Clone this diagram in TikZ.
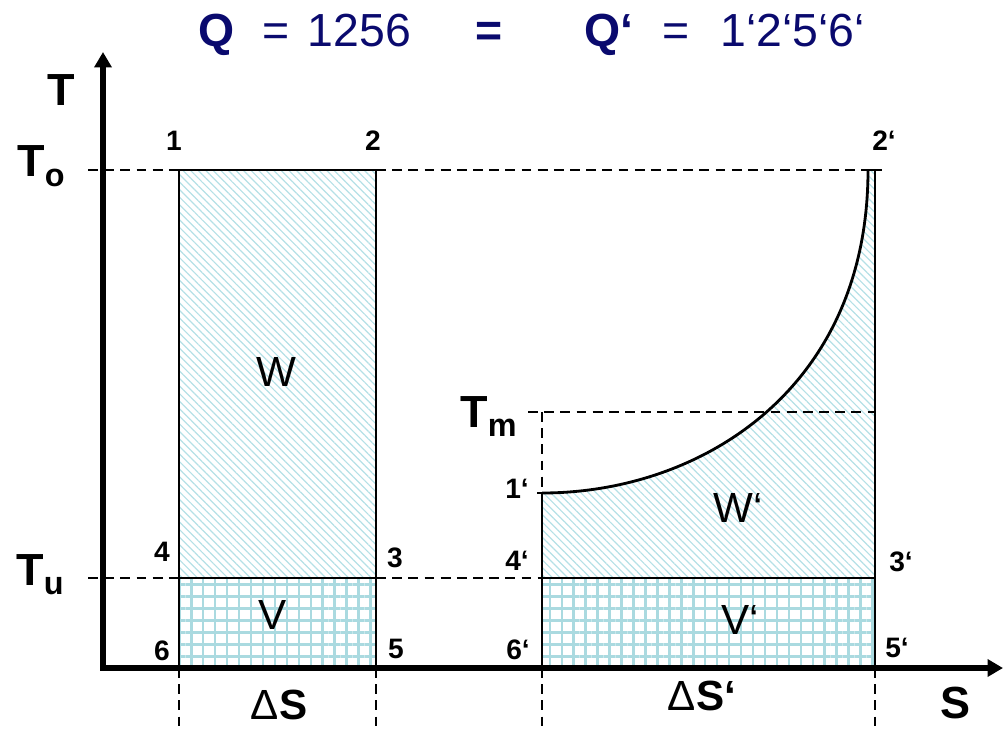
\documentclass[tikz,border=0pt]{standalone}
\usepackage{fontspec}
\setmainfont{Liberation Sans}
\usetikzlibrary{patterns.meta,arrows.meta}
\definecolor{navy}{RGB}{10,10,110}
\definecolor{hatchc}{RGB}{170,218,224}
\definecolor{hatchl}{RGB}{180,224,230}
\begin{document}
\begin{tikzpicture}[x=0.025cm,y=-0.025cm,
  axis/.style={line width=4pt,-{Triangle[length=11pt,width=12pt]}},
  edge/.style={line width=2pt},
  guide/.style={line width=1.5pt,dash pattern=on 7pt off 4.5pt},
  hatchfill/.style={pattern={Lines[angle=-45,distance=3.8pt,line width=0.85pt]},pattern color=hatchl},
  gridfill/.style={pattern={Hatch[angle=0,distance=8.5pt,line width=1.8pt]},pattern color=hatchc},
  pt/.style={font=\fontsize{20}{22}\selectfont\bfseries,inner sep=0pt},
  big/.style={font=\fontsize{32}{34}\selectfont\bfseries,inner sep=0pt},
  area/.style={font=\fontsize{30}{33}\selectfont,inner sep=0pt},
  title/.style={font=\fontsize{33}{36}\selectfont,text=navy,inner sep=0pt,anchor=base}]
\path[use as bounding box] (0,0) rectangle (1003,728);
% coordinates
\coordinate (O) at (103,668);
\coordinate (Ytip) at (103,52);
\coordinate (Xtip) at (1003,668);
\coordinate (p1) at (179,170);
\coordinate (p2) at (376,170);
\coordinate (p3) at (376,578);
\coordinate (p4) at (179,578);
\coordinate (p5) at (376,668);
\coordinate (p6) at (179,668);
\coordinate (q1) at (542,493);
\coordinate (q2) at (868,170);
\coordinate (q2r) at (875,170);
\coordinate (q3) at (875,578);
\coordinate (q4) at (542,578);
\coordinate (q5) at (875,668);
\coordinate (q6) at (542,668);
\coordinate (qm) at (875,412);
\coordinate (qmL) at (528,412);
\coordinate (qmx) at (542,412);
\coordinate (ToL) at (88,170);
\coordinate (TuL) at (88,578);
\coordinate (b1) at (179,728);
\coordinate (b2) at (376,728);
\coordinate (b3) at (542,728);
\coordinate (b4) at (875,728);
% fills
\fill[hatchfill] (p1) rectangle (p3);
\fill[gridfill] (p4) rectangle (p5);
\fill[hatchfill] (q4) -- (q1) .. controls (700,493) and (868,390) .. (q2) -- (q2r) -- (q3) -- cycle;
\fill[gridfill] (q4) rectangle (q5);
% dashed guides
\draw[guide] (ToL) -- (p1);
\draw[guide] (p2) -- (q2);
\draw[guide] (TuL) -- (p4);
\draw[guide] (p3) -- (q4);
\draw[guide] (qmL) -- (qm);
\draw[guide] (qmx) -- (q1);
\draw[guide] (p6) -- (b1);
\draw[guide] (p5) -- (b2);
\draw[guide] (q6) -- (b3);
\draw[guide] (q5) -- (b4);
% solid edges
\draw[edge] (p1) rectangle (p5);
\draw[edge] (p4) -- (p3);
\draw[edge] (q1) .. controls (700,493) and (868,390) .. (q2);
\draw[edge] (q2) -- (882,170);
\draw[edge] (q2r) -- (q5);
\draw[edge] (q4) -- (q3);
\draw[edge] (537,493) -- (q1) -- (q6);
% axes
\draw[axis] (103,670) -- (Ytip);
\draw[axis] (100,668) -- (Xtip);
% title
\node[title,font=\fontsize{33}{36}\selectfont\bfseries] (tQ) at (217,47) {Q};
\node[title,anchor=base west] (tQv) at (262,47) {=\hspace{0.4em}1256};
\node[title,font=\fontsize{33}{36}\selectfont\bfseries] (teq) at (489,47) {=};
\node[title,font=\fontsize{33}{36}\selectfont\bfseries] (tQp) at (609,47) {Q‘};
\node[title] (teq2) at (676,47) {=};
\node[title,anchor=base west] (tQpv) at (720,47) {1‘2‘5‘6‘};
% axis labels
\node[big,anchor=base] (lT) at (61,106) {T};
\node[big,anchor=base] (lS) at (955,718) {S};
\node[big,anchor=base west] (lTo) at (17,177) {T\raisebox{-7pt}{\fontsize{23}{24}\selectfont o}};
\node[big,anchor=base west] (lTu) at (16,585) {T\raisebox{-7pt}{\fontsize{23}{24}\selectfont u}};
\node[big,anchor=base west] (lTm) at (460,427) {T\raisebox{-7pt}{\fontsize{23}{24}\selectfont m}};
% point labels
\node[pt] (n1) at (174,141) {1};
\node[pt] (n2) at (373,141) {2};
\node[pt] (n2p) at (884,141) {2‘};
\node[pt] (n4) at (162,552) {4};
\node[pt] (n3) at (395,558) {3};
\node[pt] (n1p) at (517,489) {1‘};
\node[pt] (n4p) at (517,561) {4‘};
\node[pt] (n3p) at (901,562) {3‘};
\node[pt] (n6) at (162,651) {6};
\node[pt] (n5) at (396,649) {5};
\node[pt] (n6p) at (518,650) {6‘};
\node[pt] (n5p) at (897,648) {5‘};
% area labels
\node[area] (aW) at (276,372) {W};
\node[area] (aV) at (273,615) {V};
\node[area] (aWp) at (738,508) {W‘};
\node[area] (aVp) at (740,620) {V‘};
% delta S
\node[big,font=\fontsize{30}{33}\selectfont\bfseries,anchor=base] (dS) at (279,719) {{\mdseries Δ}S};
\node[big,font=\fontsize{30}{33}\selectfont\bfseries,anchor=base] (dSp) at (702,710) {{\mdseries Δ}S‘};
\end{tikzpicture}
\end{document}
